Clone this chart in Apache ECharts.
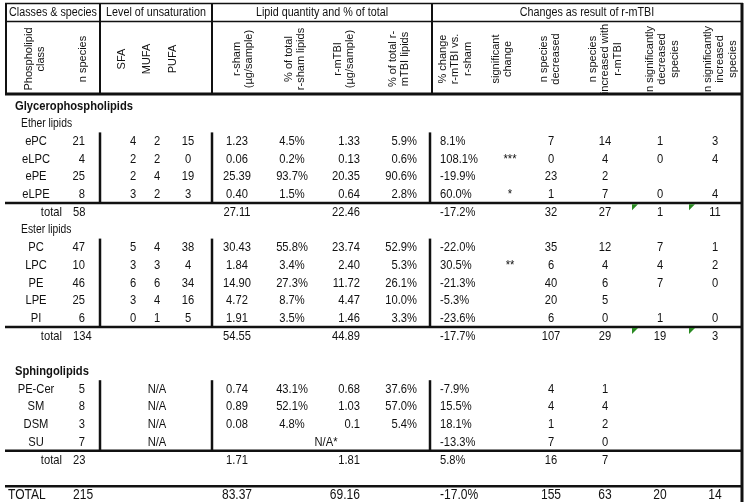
<!DOCTYPE html>
<html>
<head>
<meta charset="utf-8">
<script src="https://cdn.jsdelivr.net/npm/echarts@6/dist/echarts.min.js"></script>
<style>
html, body { margin: 0; padding: 0; background: #fff; }
#main { width: 750px; height: 502px; }
</style>
</head>
<body>
<div id="main"></div>
<script>
// ---- table contents ----
var groupHeaders = ['Classes & species', 'Level of unsaturation', 'Lipid quantity and % of total', 'Changes as result of r-mTBI'];
var columnHeaders = ['Phospholipid\nclass', 'n species', 'SFA', 'MUFA', 'PUFA',
  'r-sham\n(\u00b5g/sample)', '% of total\nr-sham lipids', 'r-mTBI\n(\u00b5g/sample)', '% of total r-\nmTBI lipids',
  '% change\nr-mTBI vs.\nr-sham', 'significant\nchange', 'n species\ndecreased', 'n species\nincreased with\nr-mTBI',
  'n significantly\ndecreased\nspecies', 'n significantly\nincreased\nspecies'];

var rowLabels = ['Glycerophospholipids', 'Ether lipids', 'ePC', 'eLPC', 'ePE', 'eLPE', 'total',
  'Ester lipids', 'PC', 'LPC', 'PE', 'LPE', 'PI', 'total', '',
  'Sphingolipids', 'PE-Cer', 'SM', 'DSM', 'SU', 'total', '', 'TOTAL'];
var rowKinds = ['group', 'sub', 'row', 'row', 'row', 'row', 'total',
  'sub', 'row', 'row', 'row', 'row', 'row', 'total', 'blank',
  'group', 'row', 'row', 'row', 'row', 'total', 'blank', 'grand'];

var nSpecies = ['', '', 21, 4, 25, 8, 58, '', 47, 10, 46, 25, 6, 134, '', '', 5, 8, 3, 7, 23, '', 215];
var sfa = ['', '', 4, 2, 2, 3, '', '', 5, 3, 6, 3, 0, '', '', '', '', '', '', '', '', '', ''];
var mufa = ['', '', 2, 2, 4, 2, '', '', 4, 3, 6, 4, 1, '', '', '', 'N/A', 'N/A', 'N/A', 'N/A', '', '', ''];
var pufa = ['', '', 15, 0, 19, 3, '', '', 38, 4, 34, 16, 5, '', '', '', '', '', '', '', '', '', ''];
var shamQty = ['', '', '1.23', '0.06', '25.39', '0.40', '27.11', '', '30.43', '1.84', '14.90', '4.72', '1.91', '54.55', '', '', '0.74', '0.89', '0.08', '', '1.71', '', '83.37'];
var shamPct = ['', '', '4.5%', '0.2%', '93.7%', '1.5%', '', '', '55.8%', '3.4%', '27.3%', '8.7%', '3.5%', '', '', '', '43.1%', '52.1%', '4.8%', '', '', '', ''];
var qtyNote = ['', '', '', '', '', '', '', '', '', '', '', '', '', '', '', '', '', '', '', 'N/A*', '', '', ''];
var tbiQty = ['', '', '1.33', '0.13', '20.35', '0.64', '22.46', '', '23.74', '2.40', '11.72', '4.47', '1.46', '44.89', '', '', '0.68', '1.03', '0.1', '', '1.81', '', '69.16'];
var tbiPct = ['', '', '5.9%', '0.6%', '90.6%', '2.8%', '', '', '52.9%', '5.3%', '26.1%', '10.0%', '3.3%', '', '', '', '37.6%', '57.0%', '5.4%', '', '', '', ''];
var pctChange = ['', '', '8.1%', '108.1%', '-19.9%', '60.0%', '-17.2%', '', '-22.0%', '30.5%', '-21.3%', '-5.3%', '-23.6%', '-17.7%', '', '', '-7.9%', '15.5%', '18.1%', '-13.3%', '5.8%', '', '-17.0%'];
var sigChange = ['', '', '', '***', '', '*', '', '', '', '**', '', '', '', '', '', '', '', '', '', '', '', '', ''];
var nDecreased = ['', '', 7, 0, 23, 1, 32, '', 35, 6, 40, 20, 6, 107, '', '', 4, 4, 1, 7, 16, '', 155];
var nIncreased = ['', '', 14, 4, 2, 7, 27, '', 12, 4, 6, 5, 0, 29, '', '', 1, 4, 2, 0, 7, '', 63];
var nSigDecreased = ['', '', 1, 0, '', 0, 1, '', 7, 4, 7, '', 1, 19, '', '', '', '', '', '', '', '', 20];
var nSigIncreased = ['', '', 3, 4, '', 4, 11, '', 1, 2, 0, '', 0, 3, '', '', '', '', '', '', '', '', 14];

// ---- layout (pixel units of the axes) ----
var rowTop = 106, rowStep = 17.7;
var groupHeaderX = [53, 156, 322, 587];
var columnHeaderX = [35, 83, 122, 147, 173, 243, 295, 344, 399, 455, 502, 550, 605, 662, 720];
var squeeze = 0.86; // the source text is a little narrow
var cols = [
  {data: nSpecies, x: 85, align: 'right', totalX: 73, totalAlign: 'left'},
  {data: sfa, x: 133}, {data: mufa, x: 157}, {data: pufa, x: 188},
  {data: shamQty, x: 237}, {data: shamPct, x: 292}, {data: qtyNote, x: 326},
  {data: tbiQty, x: 360, align: 'right'}, {data: tbiPct, x: 417, align: 'right'},
  {data: pctChange, x: 440, align: 'left'}, {data: sigChange, x: 510},
  {data: nDecreased, x: 551}, {data: nIncreased, x: 605},
  {data: nSigDecreased, x: 660}, {data: nSigIncreased, x: 715}
];
var flagged = [[6, 632], [6, 689], [13, 632], [13, 689]]; // little green cell markers

function rowY(i) { return rowTop + i * rowStep; }
function empty(v) { return v === '' || v == null; }

// text items
var texts = [];
groupHeaders.forEach(function (t, i) {
  texts.push({x: groupHeaderX[i], y: 12.5, text: t, size: 12.5, sq: true});
});
columnHeaders.forEach(function (t, i) {
  texts.push({x: columnHeaderX[i], y: 59, text: t, size: 11, rot: true, lh: 12.5});
});
rowLabels.forEach(function (t, i) {
  var k = rowKinds[i];
  if (k === 'blank') return;
  if (k === 'group') texts.push({x: 15, y: rowY(i), text: t, size: 13, bold: true, align: 'left', sq: true});
  else if (k === 'sub') texts.push({x: 21, y: rowY(i), text: t, size: 12, align: 'left', sq: true});
  else if (k === 'total') texts.push({x: 62, y: rowY(i), text: t, size: 13, align: 'right', sq: true});
  else if (k === 'grand') texts.push({x: 8, y: rowY(i), text: t, size: 14, align: 'left', sq: true});
  else texts.push({x: 36, y: rowY(i), text: t, size: 13, sq: true});
});
cols.forEach(function (c) {
  c.data.forEach(function (v, i) {
    if (empty(v)) return;
    var tot = rowKinds[i] === 'total' || rowKinds[i] === 'grand';
    var x = (tot && c.totalX) ? c.totalX : c.x;
    var al = (tot && c.totalAlign) ? c.totalAlign : (c.align || 'center');
    texts.push({x: x, y: rowY(i), text: String(v), size: rowKinds[i] === 'grand' ? 14 : 13, align: al, sq: true});
  });
});

// rules
var rules = [];
function h(y, x1, x2, w) { rules.push([x1, y, x2, y, w]); }
function v(x, y1, y2, w) { rules.push([x, y1, x, y2, w]); }
h(3.5, 5, 743, 1.5);
h(21.5, 5, 743, 1.5);
h(94, 5, 743, 3);
[5, 12, 19, 21].forEach(function (i) { h(rowY(i) + 8.5, 5, 743, 2.5); });
[6, 100, 212, 432].forEach(function (x) { v(x, 3, 94, 2); });
v(742, 3, 502, 3);
[[2, 5], [8, 12], [16, 19]].forEach(function (g) {
  [100, 212, 430].forEach(function (x) { v(x, rowY(g[0]) - 9, rowY(g[1]) + 8.5, 2.5); });
});

var chart = echarts.init(document.getElementById('main'), null, {renderer: 'canvas'});
chart.setOption({
  animation: false,
  backgroundColor: '#fff',
  grid: {left: 0, right: 0, top: 0, bottom: 0},
  xAxis: {type: 'value', min: 0, max: 750, show: false},
  yAxis: {type: 'value', min: 0, max: 502, inverse: true, show: false},
  series: [
    {
      type: 'custom',
      data: rules.map(function (r) { return [r[0], r[1]]; }),
      renderItem: function (params, api) {
        var r = rules[params.dataIndex];
        var a = api.coord([r[0], r[1]]), b = api.coord([r[2], r[3]]);
        return {type: 'line', shape: {x1: a[0], y1: a[1], x2: b[0], y2: b[1]},
          style: {stroke: '#111', lineWidth: r[4]}};
      }
    },
    {
      type: 'custom',
      data: flagged.map(function (f) { return [f[1], rowY(f[0]) - 8]; }),
      renderItem: function (params, api) {
        var p = api.coord([flagged[params.dataIndex][1], rowY(flagged[params.dataIndex][0]) - 8]);
        return {type: 'polygon', shape: {points: [[p[0], p[1]], [p[0] + 6, p[1]], [p[0], p[1] + 6]]},
          style: {fill: '#2a8a22'}};
      }
    },
    {
      type: 'custom',
      data: texts.map(function (t) { return [t.x, t.y]; }),
      renderItem: function (params, api) {
        var t = texts[params.dataIndex];
        var p = api.coord([t.x, t.y]);
        return {
          type: 'text', x: p[0], y: p[1], rotation: t.rot ? Math.PI / 2 : 0,
          scaleX: t.sq ? squeeze : 1,
          style: {
            text: t.text, fill: '#111', fontSize: t.size, fontWeight: t.bold ? 'bold' : 'normal',
            fontFamily: '"Liberation Sans", Arial, sans-serif',
            align: t.align || 'center', verticalAlign: 'middle', lineHeight: t.lh || t.size + 2
          }
        };
      }
    }
  ]
});
</script>
</body>
</html>
